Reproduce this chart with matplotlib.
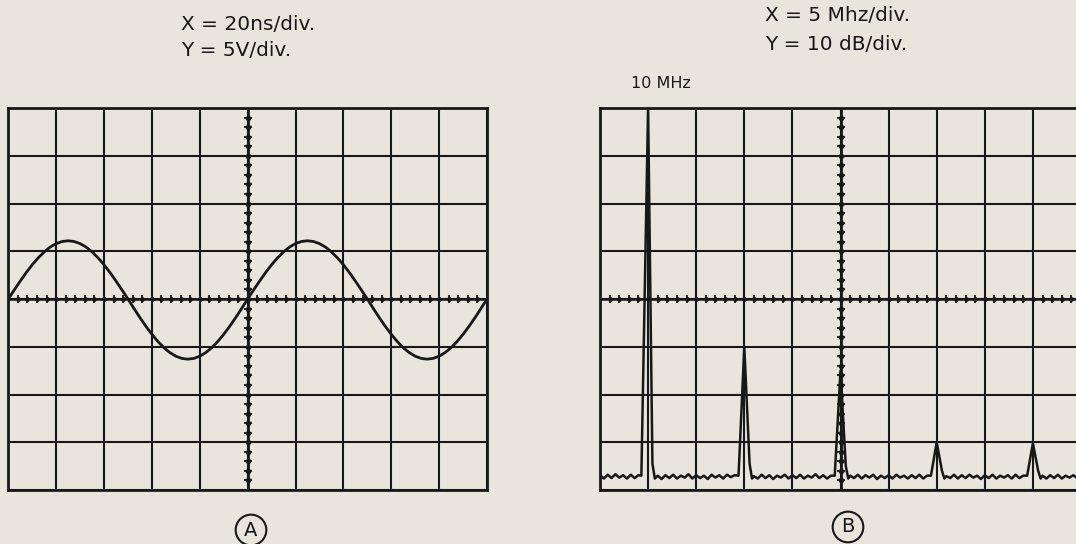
import matplotlib
matplotlib.use("Agg")
import matplotlib.pyplot as plt
import numpy as np

# panel A: sine on the scope, 20 ns/div, 5 V/div
time_ns = [0.0, 2.5, 5.0, 7.5, 10.0, 12.5, 15.0, 17.5, 20.0, 22.5,
           25.0, 27.5, 30.0, 32.5, 35.0, 37.5, 40.0, 42.5, 45.0, 47.5,
           50.0, 52.5, 55.0, 57.5, 60.0, 62.5, 65.0, 67.5, 70.0, 72.5,
           75.0, 77.5, 80.0, 82.5, 85.0, 87.5, 90.0, 92.5, 95.0, 97.5,
           100.0, 102.5, 105.0, 107.5, 110.0, 112.5, 115.0, 117.5, 120.0, 122.5,
           125.0, 127.5, 130.0, 132.5, 135.0, 137.5, 140.0, 142.5, 145.0, 147.5,
           150.0, 152.5, 155.0, 157.5, 160.0, 162.5, 165.0, 167.5, 170.0, 172.5,
           175.0, 177.5, 180.0, 182.5, 185.0, 187.5, 190.0, 192.5, 195.0, 197.5,
           200.0]
volts = [0.0, 0.95, 1.88, 2.77, 3.59, 4.31, 4.93, 5.44, 5.80, 6.02,
         6.10, 6.02, 5.80, 5.44, 4.93, 4.31, 3.59, 2.77, 1.88, 0.95,
         0.0, -0.99, -1.95, -2.86, -3.70, -4.45, -5.10, -5.61, -5.99, -6.22,
         -6.30, -6.22, -5.99, -5.61, -5.10, -4.45, -3.70, -2.86, -1.95, -0.99,
         0.0, 0.95, 1.88, 2.77, 3.59, 4.31, 4.93, 5.44, 5.80, 6.02,
         6.10, 6.02, 5.80, 5.44, 4.93, 4.31, 3.59, 2.77, 1.88, 0.95,
         0.0, -0.99, -1.95, -2.86, -3.70, -4.45, -5.10, -5.61, -5.99, -6.22,
         -6.30, -6.22, -5.99, -5.61, -5.10, -4.45, -3.70, -2.86, -1.95, -0.99,
         0.0]

# panel B: spectrum, 5 MHz/div, 10 dB/div (top of screen = 0 dB)
trace_mhz = [5.0, 5.4, 5.8, 6.2, 6.6, 7.0, 7.4, 7.8, 8.2, 8.6, 9.0,
             9.3, 10.0, 10.45, 10.7,
             11.0, 11.4, 11.8, 12.2, 12.6, 13.0, 13.4, 13.8, 14.2, 14.6, 15.0,
             15.4, 15.8, 16.2, 16.6, 17.0, 17.4, 17.8, 18.2, 18.6, 19.0,
             19.4, 20.0, 20.55, 20.8,
             21.0, 21.4, 21.8, 22.2, 22.6, 23.0, 23.4, 23.8, 24.2, 24.6, 25.0,
             25.4, 25.8, 26.2, 26.6, 27.0, 27.4, 27.8, 28.2, 28.6, 29.0,
             29.4, 30.0, 30.55, 30.8,
             31.0, 31.4, 31.8, 32.2, 32.6, 33.0, 33.4, 33.8, 34.2, 34.6, 35.0,
             35.4, 35.8, 36.2, 36.6, 37.0, 37.4, 37.8, 38.2, 38.6, 39.0,
             39.4, 40.0, 40.55, 40.8,
             41.0, 41.4, 41.8, 42.2, 42.6, 43.0, 43.4, 43.8, 44.2, 44.6, 45.0,
             45.4, 45.8, 46.2, 46.6, 47.0, 47.4, 47.8, 48.2, 48.6, 49.0,
             49.4, 50.0, 50.55, 50.8,
             51.0, 51.4, 51.8, 52.2, 52.6, 53.0, 53.4, 53.8, 54.2, 54.6, 55.0]
trace_db = [-76.9, -77.6, -76.8, -77.5, -76.7, -77.4, -76.9, -77.6, -76.8, -77.5, -76.9,
            -77.0, 0.0, -74.5, -77.6,
            -77.0, -77.7, -76.9, -77.5, -76.8, -77.6, -77.0, -77.4, -76.7, -77.6, -76.9,
            -77.5, -77.0, -77.7, -76.8, -77.4, -76.9, -77.6, -76.8, -77.3, -76.9,
            -77.0, -50.0, -74.5, -77.6,
            -77.1, -77.6, -76.8, -77.5, -76.9, -77.7, -77.0, -77.4, -76.8, -77.6, -76.9,
            -77.5, -76.8, -77.6, -77.0, -77.4, -76.7, -77.5, -76.9, -77.6, -77.0,
            -77.0, -55.0, -75.0, -77.6,
            -77.0, -77.5, -76.8, -77.6, -76.9, -77.4, -76.8, -77.7, -77.0, -77.5, -76.9,
            -77.6, -76.8, -77.4, -77.0, -77.6, -76.9, -77.5, -76.8, -77.6, -77.0,
            -77.0, -70.0, -76.0, -77.6,
            -77.1, -77.5, -76.8, -77.6, -76.9, -77.5, -76.8, -77.4, -77.0, -77.7, -76.9,
            -77.5, -76.8, -77.6, -77.0, -77.4, -76.9, -77.6, -76.8, -77.5, -77.0,
            -77.0, -70.2, -76.0, -77.6,
            -77.0, -77.6, -76.9, -77.5, -76.8, -77.6, -77.0, -77.4, -76.9, -77.5, -77.0]

paper = "#eae5dc"
ink = "#181818"

W, H = 1076, 544
fig = plt.figure(figsize=(W / 100, H / 100), dpi=100, facecolor=paper)


def screen(px_left, px_right, px_top, px_bottom):
    """axes placed by pixel edges"""
    return fig.add_axes([px_left / W, 1 - px_bottom / H,
                         (px_right - px_left) / W, (px_bottom - px_top) / H])


def graticule(ax, x0, x1, y0, y1):
    """10 x 8 grid with the beaded centre axes"""
    ax.set_facecolor(paper)
    ax.set_xlim(x0, x1)
    ax.set_ylim(y0, y1)
    ax.set_xticks(np.linspace(x0, x1, 11))
    ax.set_yticks(np.linspace(y0, y1, 9))
    ax.tick_params(length=0, labelbottom=False, labelleft=False)
    ax.grid(True, color=ink, lw=1.5)
    for s in ax.spines.values():
        s.set_color(ink)
        s.set_linewidth(2.0)
    xc = (x0 + x1) / 2
    yc = (y0 + y1) / 2
    ax.axvline(xc, color=ink, lw=2.0)
    ax.axhline(yc, color=ink, lw=1.8)
    xs = np.linspace(x0, x1, 51)[1:-1]
    ys = np.linspace(y0, y1, 41)[1:-1]
    ax.plot(xs, np.full(len(xs), yc), ls="none", marker="|", ms=6, mew=1.3, color=ink)
    ax.plot(xs, np.full(len(xs), yc), ls="none", marker="o", ms=2.5, color=ink)
    ax.plot(np.full(len(ys), xc), ys, ls="none", marker="_", ms=6, mew=1.3, color=ink)
    ax.plot(np.full(len(ys), xc), ys, ls="none", marker="o", ms=3.0, color=ink)


# (A) time domain
axA = screen(8.3, 487, 108, 490)
graticule(axA, 0, 200, -20, 20)
axA.plot(time_ns, volts, color=ink, lw=2.0, solid_joinstyle="round", zorder=5)

# (B) frequency domain, right edge runs off the page
axB = screen(600, 1081, 108, 490)
graticule(axB, 5, 55, -80, 0)
axB.plot(trace_mhz, trace_db, color=ink, lw=1.8, solid_joinstyle="round", zorder=5)

# captions
fig.text(181 / W, 1 - 25 / H, "X = 20ns/div.", fontsize=14.5, color=ink, va="center")
fig.text(181 / W, 1 - 50 / H, "Y = 5V/div.", fontsize=14.5, color=ink, va="center")
fig.text(765 / W, 1 - 15.5 / H, "X = 5 Mhz/div.", fontsize=14.5, color=ink, va="center")
fig.text(765 / W, 1 - 44.5 / H, "Y = 10 dB/div.", fontsize=14.5, color=ink, va="center")
fig.text(661 / W, 1 - 84 / H, "10 MHz", fontsize=11.5, color=ink, ha="center", va="center")

circle = dict(boxstyle="circle,pad=0.3", fc="none", ec=ink, lw=1.5)
fig.text(251 / W, 1 - 530 / H, "A", fontsize=14, color=ink, ha="center", va="center", bbox=circle)
fig.text(848 / W, 1 - 527 / H, "B", fontsize=14, color=ink, ha="center", va="center", bbox=circle)

fig.savefig("out.png", dpi=100, facecolor=paper)
